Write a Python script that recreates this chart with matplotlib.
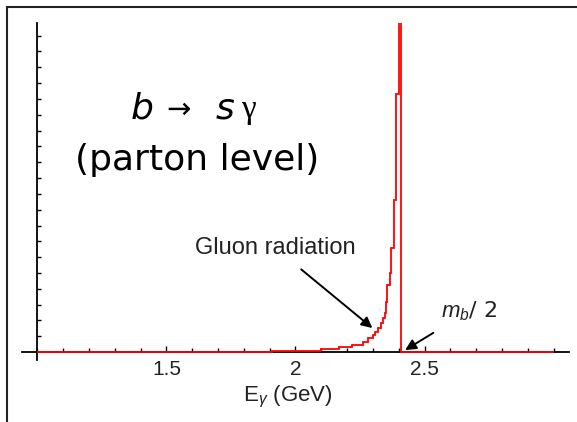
import matplotlib
matplotlib.use('Agg')
import matplotlib.pyplot as plt
from matplotlib.patches import Rectangle
from matplotlib.ticker import MultipleLocator

# Photon energy spectrum for b -> s gamma, binned (GeV edges, arbitrary units)
bin_edges = [1.00, 1.91, 2.10, 2.17, 2.22, 2.26, 2.28, 2.30, 2.31, 2.32, 2.33,
             2.34, 2.345, 2.35, 2.355, 2.365, 2.37, 2.38, 2.39, 2.40, 2.41, 3.00]
bin_heights = [0, 0.06, 0.19, 0.32, 0.44, 0.63, 0.89, 1.08, 1.27, 1.52, 1.84,
               2.15, 2.47, 3.16, 4.24, 5.0, 6.58, 9.62, 16.3, 40.0, 0]

x_major = [1.5, 2.0, 2.5]
x_labels = ['1.5', '2', '2.5']
y_ticks = list(range(1, 21))

plt.rcParams['mathtext.fontset'] = 'custom'
plt.rcParams['mathtext.rm'] = 'Liberation Sans'
plt.rcParams['mathtext.it'] = 'Liberation Sans:italic'

fig = plt.figure(figsize=(5.77, 4.22), dpi=100)
ax = fig.add_axes([22 / 577, 62 / 422, 547 / 577, 337 / 422])

ax.stairs(bin_heights, bin_edges, color='red', linewidth=1.3, zorder=3)

ax.set_xlim(0.94, 3.06)
ax.set_ylim(-0.5, 20.8)

# Mathematica-style crossing axes
ax.spines['top'].set_visible(False)
ax.spines['right'].set_visible(False)
ax.spines['left'].set_position(('data', 1.0))
ax.spines['bottom'].set_position(('data', 0))
ax.spines['left'].set_linewidth(1.3)
ax.spines['bottom'].set_linewidth(1.3)

ax.set_xticks(x_major)
ax.set_xticklabels(x_labels, fontfamily='Liberation Sans', fontsize=15, color='#222222')
ax.xaxis.set_minor_locator(MultipleLocator(0.1))
ax.tick_params(axis='x', which='major', direction='in', length=4, width=1, pad=6)
ax.tick_params(axis='x', which='minor', direction='in', length=3, width=1)
ax.set_yticks(y_ticks)
ax.set_yticklabels([])
ax.tick_params(axis='y', which='major', direction='in', length=3, width=1)

ax.set_xlabel(r'E$_{\gamma}$ (GeV)', fontfamily='Liberation Sans', fontsize=16, color='#222222')
ax.xaxis.set_label_coords(0.486, -0.072)

# Annotations
ax.annotate('Gluon radiation', xy=(2.298, 1.52), xytext=(1.92, 6.6),
            ha='center', va='center', fontfamily='Liberation Sans', fontsize=17, color='#222222',
            arrowprops=dict(arrowstyle='-|>', color='black', lw=1.4, mutation_scale=16,
                            shrinkA=9, shrinkB=0))
ax.annotate(r'$m_b$/ 2', xy=(2.425, 0.13), xytext=(2.673, 2.6),
            ha='center', va='center', fontsize=16, color='#222222',
            arrowprops=dict(arrowstyle='-|>', color='black', lw=1.4, mutation_scale=16,
                            shrinkA=10, shrinkB=0))

# Process title
fig.text(131 / 577, 0.720, 'b', fontsize=26, style='italic', va='baseline', ha='left')
fig.text(166 / 577, 0.720, '\u2192', fontsize=21, va='baseline', ha='left')
fig.text(216 / 577, 0.720, 's', fontsize=26, style='italic', va='baseline', ha='left')
fig.text(241 / 577, 0.720, '\u03b3', fontsize=24, fontfamily='Liberation Serif', va='baseline', ha='left')
fig.text(197 / 577, 0.597, '(parton level)', fontsize=26, va='baseline', ha='center')

# Outer frame
fig.add_artist(Rectangle((7 / 577, -0.1), 2, 0.983 + 0.1, transform=fig.transFigure,
                         fill=False, edgecolor='#222222', linewidth=1.5))

plt.savefig('out.png', dpi=100)
